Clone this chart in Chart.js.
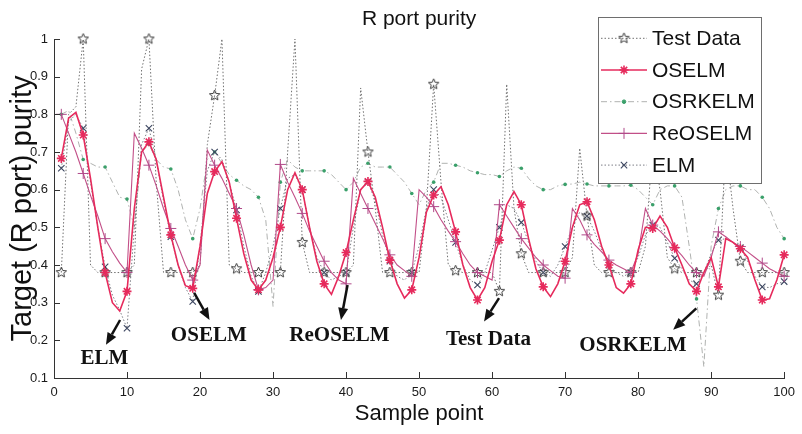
<!DOCTYPE html>
<html>
<head>
<meta charset="utf-8">
<title>R port purity</title>
<script src="https://cdn.jsdelivr.net/npm/chart.js@4"></script>
<style>
  html,body{margin:0;padding:0;background:#fff}
  #wrap{width:802px;height:434px}
</style>
</head>
<body>
<div id="wrap"><canvas id="ch1" width="802" height="434"></canvas></div>
<script>
// valores (amostras 1..100, marcadores a cada 3 amostras)
const testData = [0.38,0.80,0.82,1.00,0.40,0.38,0.38,0.38,0.38,0.38,
  0.40,0.92,1.00,0.62,0.38,0.38,0.38,0.38,0.38,0.40,
  0.72,0.85,1.00,0.40,0.39,0.38,0.38,0.38,0.38,0.38,
  0.38,0.70,1.00,0.46,0.38,0.38,0.38,0.38,0.38,0.38,
  0.40,0.87,0.70,0.55,0.38,0.38,0.38,0.38,0.38,0.38,
  0.55,0.88,0.62,0.40,0.385,0.38,0.38,0.38,0.38,0.38,
  0.33,0.88,0.55,0.43,0.38,0.38,0.38,0.38,0.38,0.38,
  0.42,0.71,0.53,0.40,0.38,0.38,0.38,0.38,0.38,0.38,
  0.45,0.72,0.60,0.42,0.39,0.38,0.38,0.38,0.38,0.40,
  0.32,0.72,0.55,0.41,0.38,0.38,0.38,0.38,0.38,0.38];
const oselm = [0.683,0.79,0.805,0.745,0.63,0.50,0.38,0.30,0.278,0.33,
  0.55,0.70,0.727,0.68,0.58,0.48,0.40,0.345,0.338,0.45,
  0.59,0.648,0.674,0.62,0.524,0.43,0.36,0.334,0.36,0.42,
  0.50,0.60,0.645,0.60,0.50,0.41,0.35,0.322,0.37,0.433,
  0.52,0.60,0.622,0.58,0.50,0.413,0.35,0.312,0.334,0.42,
  0.54,0.586,0.608,0.56,0.488,0.40,0.34,0.307,0.34,0.41,
  0.466,0.56,0.595,0.56,0.47,0.39,0.342,0.316,0.35,0.41,
  0.50,0.56,0.568,0.52,0.45,0.40,0.34,0.325,0.35,0.44,
  0.50,0.497,0.53,0.50,0.446,0.40,0.35,0.33,0.38,0.42,
  0.342,0.47,0.46,0.443,0.42,0.36,0.307,0.31,0.36,0.427];
const osrkelm = [0.80,0.81,0.75,0.68,0.67,0.66,0.66,0.62,0.58,0.575,
  0.50,0.70,0.72,0.68,0.66,0.655,0.60,0.52,0.47,0.55,
  0.68,0.70,0.67,0.64,0.625,0.61,0.60,0.58,0.52,0.29,
  0.62,0.68,0.66,0.65,0.65,0.65,0.65,0.64,0.62,0.60,
  0.62,0.66,0.67,0.66,0.66,0.66,0.64,0.62,0.59,0.56,
  0.60,0.62,0.67,0.67,0.665,0.66,0.65,0.645,0.64,0.64,
  0.635,0.65,0.66,0.657,0.63,0.61,0.60,0.60,0.61,0.614,
  0.615,0.62,0.615,0.61,0.61,0.61,0.61,0.61,0.612,0.60,
  0.58,0.56,0.60,0.61,0.61,0.58,0.45,0.31,0.13,0.45,
  0.55,0.60,0.61,0.61,0.60,0.60,0.58,0.55,0.50,0.47];
const reoselm = [0.80,0.75,0.70,0.643,0.585,0.53,0.47,0.435,0.405,0.38,
  0.75,0.71,0.665,0.61,0.55,0.497,0.45,0.40,0.36,0.40,
  0.705,0.665,0.63,0.59,0.55,0.48,0.40,0.334,0.34,0.36,
  0.667,0.62,0.58,0.537,0.49,0.45,0.41,0.38,0.36,0.35,
  0.63,0.59,0.55,0.51,0.47,0.427,0.40,0.385,0.37,0.60,
  0.58,0.555,0.52,0.49,0.462,0.43,0.40,0.38,0.37,0.36,
  0.56,0.53,0.50,0.47,0.445,0.42,0.40,0.385,0.37,0.365,
  0.55,0.52,0.48,0.455,0.435,0.413,0.40,0.39,0.38,0.43,
  0.55,0.506,0.49,0.47,0.446,0.425,0.40,0.38,0.37,0.42,
  0.488,0.475,0.46,0.449,0.435,0.42,0.405,0.39,0.38,0.37];
const elm = [0.657,0.78,0.80,0.763,0.62,0.50,0.395,0.32,0.28,0.232,
  0.50,0.72,0.763,0.68,0.57,0.475,0.40,0.34,0.303,0.45,
  0.65,0.70,0.68,0.62,0.546,0.45,0.37,0.33,0.38,0.45,
  0.55,0.63,0.64,0.60,0.50,0.42,0.38,0.36,0.37,0.38,
  0.50,0.60,0.62,0.57,0.48,0.41,0.37,0.36,0.38,0.45,
  0.55,0.60,0.58,0.52,0.46,0.40,0.36,0.347,0.38,0.44,
  0.50,0.56,0.55,0.513,0.46,0.41,0.38,0.37,0.40,0.449,
  0.50,0.54,0.53,0.49,0.44,0.40,0.38,0.37,0.38,0.42,
  0.48,0.506,0.50,0.46,0.418,0.39,0.36,0.35,0.38,0.43,
  0.466,0.47,0.46,0.446,0.41,0.37,0.342,0.34,0.35,0.356];

const xTicks = [0,10,20,30,40,50,60,70,80,90,100];
const yTicks = [0.1,0.2,0.3,0.4,0.5,0.6,0.7,0.8,0.9,1];

// setas e textos de anotação (coordenadas em unidades do gráfico)
const NOTES = [
  {text:'ELM',       tx:6.9,  ty:0.152, from:[9.05,0.254],  to:[7.12,0.188]},
  {text:'OSELM',     tx:21.2, ty:0.212, from:[19.2,0.326],  to:[21.3,0.254]},
  {text:'ReOSELM',   tx:39.1, ty:0.212, from:[40.2,0.347],  to:[39.3,0.254]},
  {text:'Test Data', tx:59.5, ty:0.203, from:[60.95,0.312], to:[58.9,0.250]},
  {text:'OSRKELM',   tx:79.3, ty:0.185, from:[87.97,0.285], to:[84.8,0.228]},
];

const FONT = '"Liberation Sans", Arial, sans-serif';
Chart.defaults.font.family = FONT;
Chart.defaults.color = '#1a1a1a';

function starImg(size, color){
  const c = document.createElement('canvas');
  c.width = c.height = size;
  const g = c.getContext('2d');
  const cx = size/2, cy = size/2, r = size/2 - 1, ri = r*0.45;
  g.strokeStyle = color; g.lineWidth = 1;
  g.beginPath();
  for(let i=0;i<10;i++){
    const a = -Math.PI/2 + i*Math.PI/5, rr = i%2 ? ri : r;
    g.lineTo(cx+rr*Math.cos(a), cy+rr*Math.sin(a));
  }
  g.closePath(); g.stroke();
  return c;
}

const every3 = r => ctx => (ctx.dataIndex % 3 === 0 ? r : 0);
const sampleNo = testData.map((_, i) => i + 1);
const pts = vals => vals.map((y, i) => ({x: sampleNo[i], y}));

const datasets = [
  {label:'Test Data', data:pts(testData), borderColor:'#707070', borderWidth:1, borderDash:[1.5,2],
   pointStyle:starImg(13,'#3a3a3a'), pointRadius:every3(5), order:2, clip:false},
  {label:'OSELM', data:pts(oselm), borderColor:'#e62a5c', borderWidth:1.6,
   pointStyle:'star', pointBorderColor:'#e62a5c', pointBorderWidth:1.6, pointRadius:every3(4.5), order:0, clip:false},
  {label:'OSRKELM', data:pts(osrkelm), borderColor:'#b0b2b0', borderWidth:1, borderDash:[6,3,1.5,3],
   pointStyle:'circle', pointBackgroundColor:'#3aa06a', pointBorderColor:'#3aa06a', pointBorderWidth:0, pointRadius:every3(1.8), order:4, clip:false},
  {label:'ReOSELM', data:pts(reoselm), borderColor:'#c24f88', borderWidth:1.1,
   pointStyle:'cross', pointBorderColor:'#b04a8a', pointBorderWidth:1, pointRadius:every3(5.5), order:1, clip:false},
  {label:'ELM', data:pts(elm), borderColor:'#7d7e86', borderWidth:1, borderDash:[1.5,2],
   pointStyle:'crossRot', pointBorderColor:'#3c4660', pointBorderWidth:1.1, pointRadius:every3(4.5), order:3, clip:false},
];

// marcas dos eixos para dentro (estilo MATLAB) + título
const axesInward = {
  id:'axesInward',
  afterDraw(chart){
    const {ctx, chartArea:{left, right, bottom, top}, scales:{x, y}} = chart;
    ctx.save();
    ctx.strokeStyle = '#333'; ctx.lineWidth = 1;
    ctx.beginPath();
    yTicks.forEach(v => { const py = Math.round(y.getPixelForValue(v))+0.5; ctx.moveTo(left, py); ctx.lineTo(left+6, py); });
    xTicks.forEach(v => { const px = Math.round(x.getPixelForValue(v))+0.5; ctx.moveTo(px, bottom); ctx.lineTo(px, bottom-6); });
    ctx.stroke();
    ctx.fillStyle = '#111';
    ctx.font = '21px '+FONT;
    ctx.textAlign = 'center'; ctx.textBaseline = 'middle';
    ctx.fillText('R port purity', (left+right)/2, top-20);
    ctx.restore();
  }
};

function drawArrow(ctx, x1, y1, x2, y2){
  const a = Math.atan2(y2-y1, x2-x1), L = 12, W = 5;
  const bx = x2 - L*Math.cos(a), by = y2 - L*Math.sin(a);
  ctx.beginPath(); ctx.moveTo(x1, y1); ctx.lineTo(bx, by); ctx.stroke();
  ctx.beginPath();
  ctx.moveTo(x2, y2);
  ctx.lineTo(bx + W*Math.sin(a), by - W*Math.cos(a));
  ctx.lineTo(bx - W*Math.sin(a), by + W*Math.cos(a));
  ctx.closePath(); ctx.fill();
}

const notes = {
  id:'notes',
  afterDatasetsDraw(chart){
    const {ctx, scales:{x, y}} = chart;
    ctx.save();
    ctx.strokeStyle = '#111'; ctx.fillStyle = '#111'; ctx.lineWidth = 2.5;
    ctx.font = 'bold 21px "Liberation Serif", "Times New Roman", serif';
    ctx.textAlign = 'center'; ctx.textBaseline = 'middle';
    NOTES.forEach(n => {
      drawArrow(ctx, x.getPixelForValue(n.from[0]), y.getPixelForValue(n.from[1]),
                     x.getPixelForValue(n.to[0]), y.getPixelForValue(n.to[1]));
      ctx.fillText(n.text, x.getPixelForValue(n.tx), y.getPixelForValue(n.ty));
    });
    ctx.restore();
  }
};

// legenda desenhada dentro da área do gráfico (canto superior direito)
const boxLegend = {
  id:'boxLegend',
  afterDatasetsDraw(chart){
    const {ctx} = chart;
    const x0 = 598, y0 = 17, w = 163, h = 166, row = 31.7;
    ctx.save();
    ctx.fillStyle = '#fff'; ctx.fillRect(x0, y0, w, h);
    ctx.strokeStyle = '#6e6e6e'; ctx.lineWidth = 1;
    ctx.strokeRect(x0+0.5, y0+0.5, w, h);
    chart.data.datasets.forEach((ds, i) => {
      const yy = y0 + 21.3 + i*row;
      ctx.strokeStyle = ds.borderColor; ctx.lineWidth = ds.borderWidth;
      ctx.setLineDash(ds.borderDash || []);
      ctx.beginPath(); ctx.moveTo(601, yy); ctx.lineTo(647, yy); ctx.stroke();
      ctx.setLineDash([]);
      const st = ds.pointStyle;
      if(st instanceof HTMLCanvasElement){
        ctx.drawImage(st, 624 - st.width/2, yy - st.height/2);
      } else {
        ctx.strokeStyle = ds.pointBorderColor; ctx.fillStyle = ds.pointBackgroundColor || ds.pointBorderColor;
        ctx.lineWidth = ds.pointBorderWidth || 1;
        Chart.helpers.drawPoint(ctx, {pointStyle:st, radius:ds.pointRadius({dataIndex:0}), borderWidth:ds.pointBorderWidth || 1, rotation:0}, 624, yy);
      }
      ctx.fillStyle = '#111';
      ctx.font = '21px '+FONT;
      ctx.textAlign = 'left'; ctx.textBaseline = 'middle';
      ctx.fillText(ds.label, 652, yy + 1);
    });
    ctx.restore();
  }
};

new Chart(document.getElementById('ch1'), {
  type:'line',
  data:{datasets},
  plugins:[axesInward, notes, boxLegend],
  options:{
    responsive:false,
    animation:false,
    layout:{padding:{top:39, right:8, left:0, bottom:0}},
    elements:{line:{tension:0, fill:false}},
    plugins:{legend:{display:false}, tooltip:{enabled:false}},
    scales:{
      x:{
        type:'linear', min:0, max:100,
        afterFit: s => { s.height = 56; },
        afterBuildTicks: s => { s.ticks = xTicks.map(v => ({value:v})); },
        ticks:{font:{size:13}, padding:7, maxRotation:0, color:'#1a1a1a'},
        grid:{display:false, drawTicks:false},
        border:{display:true, color:'#333'},
        title:{display:true, text:'Sample point', font:{size:22}, padding:{top:0, bottom:7}, color:'#111'}
      },
      y:{
        type:'linear', min:0.1, max:1,
        afterFit: s => { s.width = 54; },
        afterBuildTicks: s => { s.ticks = yTicks.map(v => ({value:v})); },
        ticks:{font:{size:13}, padding:6, color:'#1a1a1a', callback: v => String(Math.round(v*10)/10)},
        grid:{display:false, drawTicks:false},
        border:{display:true, color:'#333'},
        title:{display:true, text:'Target (R port) purity', font:{size:29}, padding:{top:6, bottom:0}, color:'#111'}
      }
    }
  }
});
</script>
</body>
</html>
